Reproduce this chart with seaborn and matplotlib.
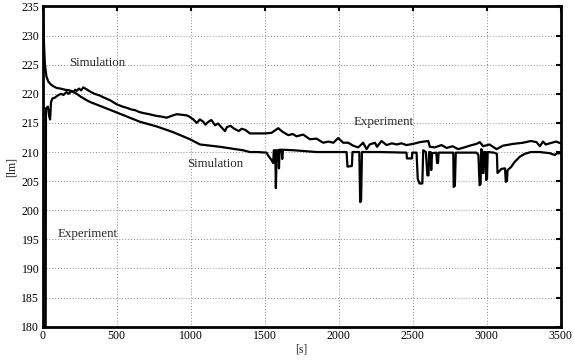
import matplotlib

matplotlib.use('Agg')

import numpy as np
import pandas as pd
import seaborn as sns
from matplotlib import pyplot as plt

# simulation curve [s], [lm]
sim_t = [0, 8, 15, 25, 38, 55, 72, 95, 120, 152, 180, 200, 230, 252, 290, 320, 400, 500,
         657, 770, 883, 995, 1063, 1198, 1355, 1400, 1450, 1513, 1524, 1547, 1558, 1562,
         1572, 1576, 1582, 1594, 1597, 1601, 1615, 1619, 1624, 1700, 1851, 2054, 2060,
         2090, 2094, 2140, 2146, 2152, 2158, 2200, 2279, 2459, 2462, 2495, 2498, 2527,
         2535, 2547, 2566, 2572, 2590, 2600, 2608, 2612, 2622, 2626, 2632, 2660, 2666,
         2672, 2676, 2775, 2778, 2786, 2792, 2932, 2945, 2953, 2960, 2964, 2970, 2974,
         2980, 2985, 2995, 2998, 3003, 3008, 3050, 3070, 3074, 3090, 3100, 3125, 3130,
         3138, 3142, 3165, 3190, 3225, 3259, 3300, 3360, 3428, 3460, 3480, 3500]
sim_v = [235, 229, 225, 223, 222.1, 221.6, 221.3, 221.0, 220.9, 220.7, 220.6, 220.4,
         220.0, 219.6, 219.0, 218.6, 217.8, 216.8, 215.2, 214.4, 213.4, 212.2, 211.3,
         210.9, 210.3, 210.0, 210.0, 209.9, 209.4, 208.6, 208.1, 210.3, 210.3, 203.8,
         210.3, 210.3, 207.2, 210.4, 210.4, 208.8, 210.4, 210.3, 210.0, 210.0, 207.5,
         207.6, 210.0, 210.0, 201.4, 201.6, 210.0, 210.0, 210.0, 209.9, 208.9, 208.9,
         209.9, 209.9, 205.4, 204.6, 204.6, 210.3, 210.0, 206.0, 206.0, 210.0, 210.0,
         206.9, 209.8, 209.9, 208.1, 208.1, 209.9, 209.9, 204.0, 204.2, 209.9, 209.9,
         209.5, 204.3, 204.5, 210.5, 210.3, 206.4, 206.4, 210.0, 210.0, 205.2, 205.4,
         210.0, 209.9, 209.7, 206.4, 206.8, 207.1, 207.2, 204.9, 205.0, 206.9, 207.4,
         208.3, 209.2, 209.7, 210.0, 210.0, 209.8, 209.5, 209.8, 209.8]

# experiment curve [s], [lm]
exp_t = [20, 22, 35, 45, 50, 56, 65, 80, 106, 125, 140, 160, 175, 195, 207, 220, 230,
         245, 260, 274, 295, 320, 350, 387, 410, 455, 500, 540, 568, 600, 624, 650, 680,
         720, 770, 800, 838, 870, 905, 940, 973, 990, 1018, 1041, 1063, 1085, 1100, 1120,
         1140, 1165, 1185, 1210, 1232, 1245, 1270, 1295, 1325, 1345, 1370, 1400, 1457,
         1502, 1547, 1592, 1620, 1660, 1690, 1716, 1760, 1806, 1850, 1896, 1930, 1965,
         1997, 2031, 2065, 2098, 2132, 2166, 2189, 2210, 2246, 2260, 2290, 2324, 2360,
         2392, 2425, 2459, 2504, 2549, 2606, 2617, 2650, 2696, 2730, 2770, 2808, 2850,
         2887, 2932, 2955, 2977, 3020, 3068, 3112, 3180, 3247, 3300, 3338, 3360, 3382,
         3400, 3428, 3470, 3500]
exp_v = [180, 217.5, 217.8, 216.0, 215.6, 218.5, 219.2, 219.3, 219.8, 220.0, 219.8,
         220.3, 220.0, 220.5, 220.3, 220.7, 220.5, 220.9, 220.6, 221.1, 220.8, 220.4,
         220.0, 219.7, 219.4, 218.9, 218.2, 217.8, 217.6, 217.3, 217.2, 216.9, 216.7,
         216.5, 216.2, 216.1, 215.9, 216.2, 216.5, 216.4, 216.3, 216.1, 215.6, 215.0,
         215.6, 215.2, 214.7, 215.2, 215.5, 214.6, 214.9, 214.2, 213.6, 214.3, 214.5,
         214.0, 213.6, 214.0, 213.8, 213.2, 213.2, 213.2, 213.3, 214.1, 213.5, 212.9,
         213.1, 212.7, 213.0, 212.2, 212.3, 211.6, 211.8, 211.6, 212.4, 211.6, 211.6,
         211.1, 210.8, 211.6, 210.5, 211.3, 211.6, 210.9, 211.9, 211.2, 211.5, 211.3,
         211.5, 211.2, 211.4, 211.7, 211.9, 210.9, 210.8, 211.2, 210.7, 211.0, 210.5,
         210.8, 211.1, 211.4, 211.7, 211.0, 211.3, 210.5, 211.1, 211.4, 211.6, 211.9,
         211.7, 211.0, 211.8, 211.3, 211.5, 211.8, 211.5]

x_ticks = [0, 500, 1000, 1500, 2000, 2500, 3000, 3500]
y_ticks = [180, 185, 190, 195, 200, 205, 210, 215, 220, 225, 230, 235]

sns.set_style('white')
plt.rcParams['font.family'] = ['Liberation Serif', 'DejaVu Serif']

fig = plt.figure(figsize=(5.74, 3.63), dpi=100)
ax = fig.add_axes([0.0744, 0.1, 0.9021, 0.8821])

sim = pd.DataFrame({'t': sim_t, 'v': sim_v})
exp = pd.DataFrame({'t': exp_t, 'v': exp_v})
sns.lineplot(data=sim, x='t', y='v', ax=ax, color='black', linewidth=1.6,
             estimator=None, sort=False)
sns.lineplot(data=exp, x='t', y='v', ax=ax, color='black', linewidth=1.6,
             estimator=None, sort=False)

ax.set_xlim(0, 3500)
ax.set_ylim(180, 235)
ax.set_xticks(x_ticks)
ax.set_yticks(y_ticks)
ax.grid(True, linestyle=(0, (1, 2)), color='#8a8a8a', linewidth=0.7)
for s in ax.spines.values():
    s.set_linewidth(2.0)
    s.set_color('black')
ax.tick_params(direction='in', length=3.5, width=1.5, top=True, right=True,
               labelsize=8.5, pad=2.5, colors='black')

ax.set_xlabel('[s]', fontsize=8.5, labelpad=1)
ax.set_ylabel('[lm]', fontsize=8.5, labelpad=3)

ax.text(178, 225.3, 'Simulation', fontsize=9.3, va='center', ha='left')
ax.text(99, 195.9, 'Experiment', fontsize=9.3, va='center', ha='left')
ax.text(975, 207.9, 'Simulation', fontsize=9.3, va='center', ha='left')
ax.text(2099, 215.2, 'Experiment', fontsize=9.3, va='center', ha='left')

plt.savefig('out.png', dpi=100)
